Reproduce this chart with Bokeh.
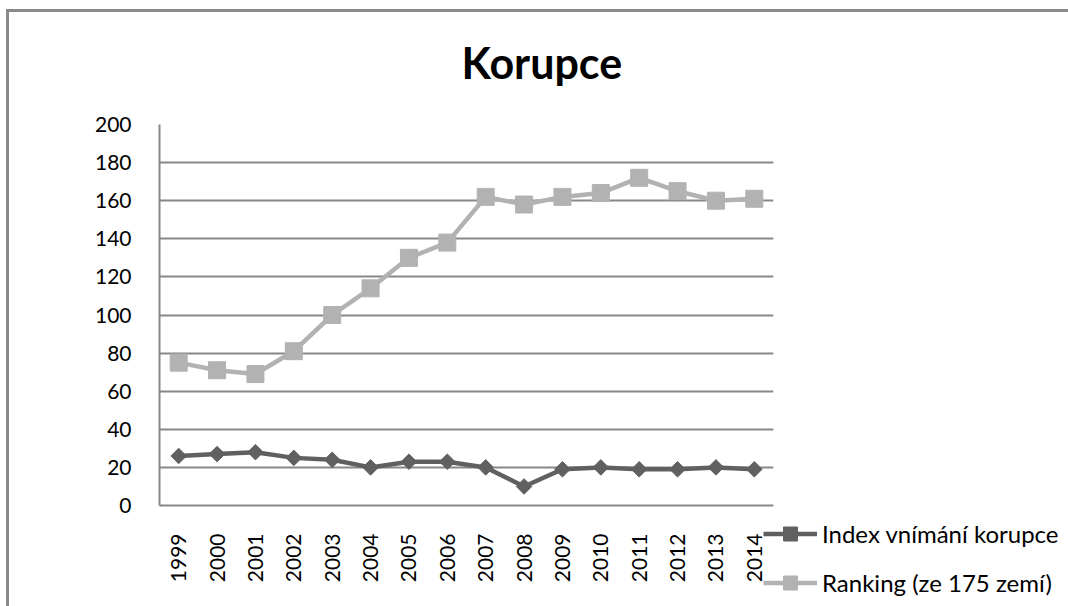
import math
from bokeh.plotting import figure
from bokeh.models import Legend, LegendItem, Title, FixedTicker
from bokeh.embed import file_html
from bokeh.resources import INLINE

years = ["1999", "2000", "2001", "2002", "2003", "2004", "2005", "2006",
         "2007", "2008", "2009", "2010", "2011", "2012", "2013", "2014"]
index_vnimani = [26, 27, 28, 25, 24, 20, 23, 23, 20, 10, 19, 20, 19, 19, 20, 19]
ranking = [75, 71, 69, 81, 100, 114, 130, 138, 162, 158, 162, 164, 172, 165, 160, 161]
y_ticks = [0, 20, 40, 60, 80, 100, 120, 140, 160, 180, 200]

DARK = "#606060"
LIGHT = "#b2b2b2"
GRID = "#888888"
FONT = "Lato"

p = figure(x_range=years, y_range=(0, 200), frame_width=614, frame_height=381,
           output_backend="svg", toolbar_location=None,
           min_border_left=153, min_border_top=111, min_border_right=0,
           min_border_bottom=101)
# chart-area frame line (top and left), drawn behind the transparent canvas border
p.styles = {"margin-left": "6px", "margin-top": "1px",
            "box-shadow": "inset 0 8px 0 0 #ffffff, inset 0 11px 0 0 #8a8a8a, "
                          "inset 3px 0 0 0 #8a8a8a"}
p.outline_line_color = None
p.background_fill_color = "white"
p.border_fill_alpha = 0

p.add_layout(Title(text="Korupce", align="left", offset=302, standoff=70,
                   vertical_align="top",
                   text_font=FONT, text_font_size="43px", text_font_style="bold",
                   text_color="black"), "above")

p.x_range.range_padding = 0
p.yaxis.ticker = FixedTicker(ticks=y_ticks)
p.xgrid.grid_line_color = None
p.ygrid.grid_line_color = GRID
p.ygrid.grid_line_width = 2
for ax in (p.xaxis, p.yaxis):
    ax.axis_line_color = GRID
    ax.axis_line_width = 2
    ax.major_tick_line_color = None
    ax.minor_tick_line_color = None
    ax.major_label_text_font = FONT
    ax.major_label_text_font_size = "21px"
    ax.major_label_text_color = "black"
p.yaxis.major_label_standoff = 22
p.xaxis.major_label_standoff = 22
p.xaxis.major_label_orientation = math.pi / 2

l1 = p.line(years, index_vnimani, line_color=DARK, line_width=4.5)
m1 = p.scatter(years, index_vnimani, marker="square", angle=math.pi / 4, size=11,
               fill_color=DARK, line_color=DARK)
l2 = p.line(years, ranking, line_color=LIGHT, line_width=4.5)
m2 = p.scatter(years, ranking, marker="square", size=17,
               fill_color=LIGHT, line_color=LIGHT)

legend = Legend(items=[LegendItem(label="Index vnímání korupce", renderers=[l1, m1]),
                       LegendItem(label="Ranking (ze 175 zemí)", renderers=[l2, m2])],
                location=(-10, -95), orientation="vertical",
                glyph_width=54, glyph_height=35, label_height=35,
                label_standoff=5, spacing=14, padding=0, margin=0,
                border_line_color=None, background_fill_alpha=0,
                label_text_font=FONT, label_text_font_size="24px",
                label_text_color="black")
p.add_layout(legend, "right")

open("out.html", "w").write(file_html(p, INLINE))
